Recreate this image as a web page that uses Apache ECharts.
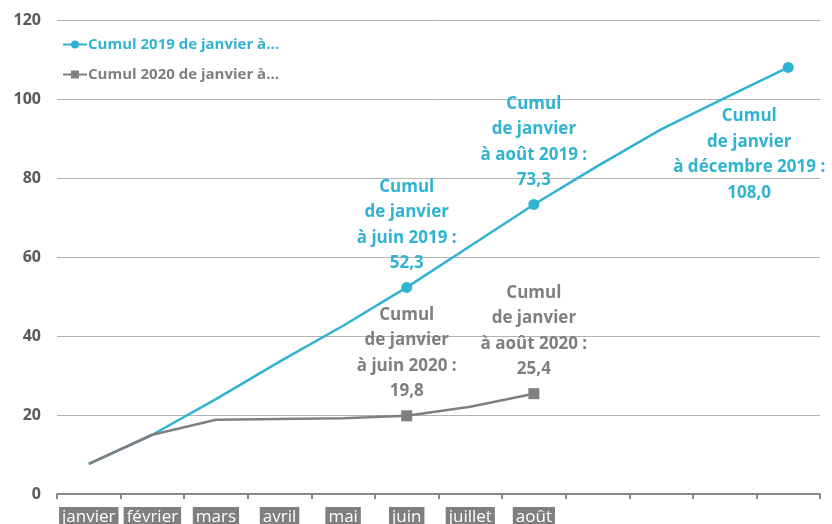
<!DOCTYPE html>
<html>
<head>
<meta charset="utf-8">
<script src="https://cdn.jsdelivr.net/npm/echarts@6/dist/echarts.min.js"></script>
<style>html,body{margin:0;padding:0;background:#fff}#c{width:832px;height:524px}</style>
</head>
<body>
<div id="c"></div>
<script>
const categories = ['janvier','février','mars','avril','mai','juin','juillet','août','septembre','octobre','novembre','décembre'];
const tickLabels = ['janvier','février','mars','avril','mai','juin','juillet','août','','','',''];
const seriesNames = ['Cumul 2019 de janvier à...', 'Cumul 2020 de janvier à...'];
const values2019 = [7.6, 15.0, 24.0, 33.5, 42.6, 52.3, 62.8, 73.3, 83.0, 92.3, 100.2, 108.0];
const values2020 = [7.6, 15.0, 18.8, 19.0, 19.2, 19.8, 22.1, 25.4];
const labels2019 = [null,null,null,null,null,'Cumul\nde janvier\nà juin 2019 :\n52,3',null,'Cumul\nde janvier\nà août 2019 :\n73,3',null,null,null,'Cumul\nde janvier\nà décembre 2019 :\n108,0'];
const labels2020 = [null,null,null,null,null,'Cumul\nde janvier\nà juin 2020 :\n19,8',null,'Cumul\nde janvier\nà août 2020 :\n25,4'];

const BLUE = '#30b3d0', GRAY = '#7f7f7f';
const FONT = 'Open Sans';

function build(values, labels, special) {
  return values.map((v, i) => {
    if (!labels[i]) return { value: v, symbol: 'none' };
    const item = { value: v, label: { show: true, formatter: labels[i] } };
    if (special && special[i]) Object.assign(item.label, special[i]);
    return item;
  });
}

const chart = echarts.init(document.getElementById('c'));
chart.setOption({
  animation: false,
  textStyle: { fontFamily: FONT },
  grid: { left: 57, right: 12, top: 20, bottom: 30, containLabel: false, outerBoundsMode: 'none' },
  legend: {
    orient: 'vertical', left: 57, top: 32, itemGap: 15,
    itemWidth: 24, itemHeight: 10,
    textStyle: { fontFamily: FONT, fontWeight: 'bold', fontSize: 15, color: 'inherit', padding: [0, 0, 0, -4] },
    data: seriesNames
  },
  xAxis: {
    type: 'category', data: categories, boundaryGap: true,
    axisLine: { lineStyle: { color: '#888', width: 2 } },
    axisTick: { show: true, length: 5, lineStyle: { color: '#888', width: 2 } },
    axisLabel: {
      interval: 0, margin: 13,
      formatter: (v, i) => tickLabels[i] ? '{b|' + tickLabels[i] + '}' : '',
      rich: {
        b: { color: '#fff', backgroundColor: '#7f7f7f', fontFamily: FONT, fontSize: 17, padding: [2, 3, 2, 3] }
      }
    }
  },
  yAxis: {
    type: 'value', min: 0, max: 120, interval: 20,
    axisLine: { show: false }, axisTick: { show: false },
    splitLine: { lineStyle: { color: '#b3b3b3', width: 1 } },
    axisLabel: { color: '#595959', fontWeight: 'bold', fontSize: 16, fontFamily: FONT, margin: 16 }
  },
  series: [
    {
      name: seriesNames[0], type: 'line', symbol: 'circle', symbolSize: 11,
      lineStyle: { color: BLUE, width: 2.5 }, itemStyle: { color: BLUE },
      label: { position: 'top', distance: 6, color: BLUE, fontWeight: 'bold', fontSize: 17, lineHeight: 25.5, fontFamily: FONT, align: 'center' },
      data: build(values2019, labels2019, { 11: { position: 'bottom', distance: 5, offset: [-39, 26] } })
    },
    {
      name: seriesNames[1], type: 'line', symbol: 'rect', symbolSize: 11,
      lineStyle: { color: GRAY, width: 2.5 }, itemStyle: { color: GRAY },
      label: { position: 'top', distance: 6, color: GRAY, fontWeight: 'bold', fontSize: 17, lineHeight: 25.5, fontFamily: FONT, align: 'center' },
      data: build(values2020, labels2020)
    }
  ]
});
</script>
</body>
</html>
